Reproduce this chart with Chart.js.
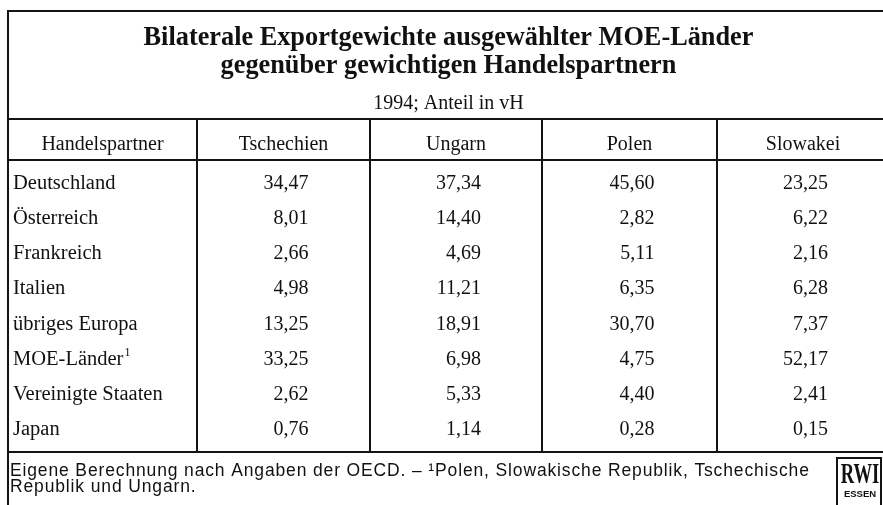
<!DOCTYPE html>
<html lang="de">
<head>
<meta charset="utf-8">
<title>Bilaterale Exportgewichte ausgewählter MOE-Länder</title>
<script src="https://cdn.jsdelivr.net/npm/chart.js@4.4.1/dist/chart.umd.min.js"></script>
<style>
  html, body { margin: 0; padding: 0; background: #fff; }
  #wrap { width: 883px; height: 505px; }
</style>
</head>
<body>
<div id="wrap"><canvas id="exportTable"></canvas></div>
<script>
// Daten
const title = ['Bilaterale Exportgewichte ausgewählter MOE-Länder', 'gegenüber gewichtigen Handelspartnern'];
const subtitle = '1994; Anteil in vH';
const firstHeader = 'Handelspartner';
const partners = ['Deutschland', 'Österreich', 'Frankreich', 'Italien', 'übriges Europa', 'MOE-Länder', 'Vereinigte Staaten', 'Japan'];
const countries = ['Tschechien', 'Ungarn', 'Polen', 'Slowakei'];
const tschechien = [34.47, 8.01, 2.66, 4.98, 13.25, 33.25, 2.62, 0.76];
const ungarn = [37.34, 14.40, 4.69, 11.21, 18.91, 6.98, 5.33, 1.14];
const polen = [45.60, 2.82, 5.11, 6.35, 30.70, 4.75, 4.40, 0.28];
const slowakei = [23.25, 6.22, 2.16, 6.28, 7.37, 52.17, 2.41, 0.15];
const footnoteRow = 'MOE-Länder';
const footer = ['Eigene Berechnung nach Angaben der OECD. – \u00B9Polen, Slowakische Republik, Tschechische', 'Republik und Ungarn.'];

// Layout (x-Einheiten = Pixel ab linkem Tabellenrand)
const colEdges = [0, 189, 362, 534, 709, 881];
const colCenter = i => (colEdges[i] + colEdges[i + 1]) / 2;
const seriesValues = [tschechien, ungarn, polen, slowakei];

const fmt = v => v.toFixed(2).replace('.', ',');
const serif = '"Liberation Serif", "Times New Roman", serif';
const sans = '"Liberation Sans", Arial, sans-serif';

const tablePlugin = {
  id: 'tableCells',
  afterDatasetsDraw(chart) {
    const { ctx, chartArea: a, scales: { x, y } } = chart;
    const left = a.left, right = chart.width;
    const line = (x1, y1, x2, y2) => { ctx.beginPath(); ctx.moveTo(x1, y1); ctx.lineTo(x2, y2); ctx.stroke(); };

    ctx.save();
    ctx.strokeStyle = '#141414';
    ctx.fillStyle = '#111';
    ctx.lineWidth = 2;

    // Rahmen und Linien
    const headTop = a.top - 41;
    line(left - 1, 11, right, 11);
    line(left, 11, left, chart.height);
    line(left, headTop, right, headTop);
    line(left, a.top, right, a.top);
    line(left, a.bottom, right, a.bottom);
    for (let i = 1; i < colEdges.length - 1; i++) {
      const px = x.getPixelForValue(colEdges[i]);
      line(px, headTop, px, a.bottom);
    }

    // Titel
    const mid = x.getPixelForValue(colEdges[colEdges.length - 1] / 2);
    ctx.textAlign = 'center';
    ctx.textBaseline = 'alphabetic';
    ctx.font = 'bold 26.3px ' + serif;
    ctx.fillText(title[0], mid, 45);
    ctx.fillText(title[1], mid, 73);
    ctx.font = '20px ' + serif;
    ctx.fillText(subtitle, mid, 109);

    // Kopfzeile
    const headY = a.top - 10;
    ctx.fillText(firstHeader, x.getPixelForValue(colCenter(0)), headY);
    countries.forEach((c, i) => ctx.fillText(c, x.getPixelForValue(colCenter(i + 1)), headY));

    // Zeilenbeschriftung
    ctx.textAlign = 'left';
    partners.forEach((p, i) => {
      const py = y.getPixelForValue(i);
      const px = left + 5;
      ctx.font = '20.5px ' + serif;
      ctx.fillText(p, px, py);
      if (p === footnoteRow) {
        const w = ctx.measureText(p).width;
        ctx.font = '12px ' + serif;
        ctx.fillText('1', px + w + 1, py - 9);
      }
    });

    // Werte
    ctx.font = '20px ' + serif;
    ctx.textAlign = 'right';
    chart.data.datasets.forEach((ds, di) => {
      const meta = chart.getDatasetMeta(di);
      meta.data.forEach((pt, i) => {
        ctx.fillText(fmt(seriesValues[di][i]), pt.x + 25, pt.y);
      });
    });

    // Fußnote, gesperrt auf ca. 800px Zeilenbreite
    ctx.textAlign = 'left';
    ctx.font = '17.5px ' + sans;
    const natural = ctx.measureText(footer[0]).width;
    ctx.letterSpacing = ((800 - natural) / footer[0].length).toFixed(2) + 'px';
    ctx.fillText(footer[0], left + 2, a.bottom + 24);
    ctx.fillText(footer[1], left + 2, a.bottom + 40);
    ctx.letterSpacing = '0px';

    // Logo
    ctx.lineWidth = 2;
    ctx.strokeRect(837, 458, 44, 52);
    ctx.save();
    ctx.translate(860, 483);
    ctx.scale(0.62, 1);
    ctx.textAlign = 'center';
    ctx.font = 'bold 30px ' + serif;
    ctx.fillText('RWI', 0, 0);
    ctx.restore();
    ctx.textAlign = 'center';
    ctx.font = 'bold 9.5px ' + sans;
    ctx.fillText('ESSEN', 860, 497);

    ctx.restore();
  }
};

new Chart(document.getElementById('exportTable'), {
  type: 'scatter',
  data: {
    datasets: countries.map((c, ci) => ({
      label: c,
      data: seriesValues[ci].map((v, i) => ({ x: colCenter(ci + 1), y: i })),
      pointRadius: 0,
      pointHoverRadius: 0
    }))
  },
  options: {
    responsive: true,
    maintainAspectRatio: false,
    animation: false,
    events: [],
    layout: { padding: { left: 8, right: 0, top: 160, bottom: 53 } },
    plugins: { legend: { display: false }, tooltip: { enabled: false }, title: { display: false } },
    scales: {
      x: { type: 'linear', display: false, min: 0, max: 875 },
      y: { type: 'linear', display: false, reverse: true, min: -0.825, max: 7.484 }
    }
  },
  plugins: [tablePlugin]
});
</script>
</body>
</html>
